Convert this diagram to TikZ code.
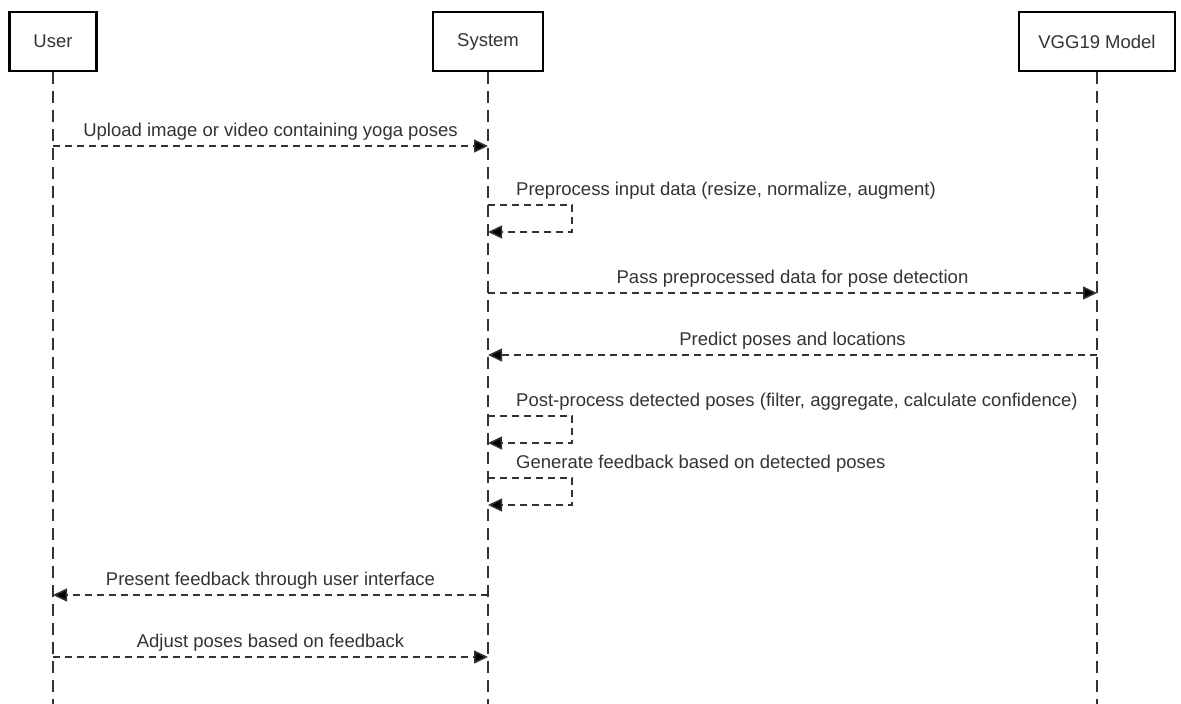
\documentclass[tikz,border=0pt]{standalone}
\usepackage{fontspec}
\setmainfont{Liberation Sans}
\usepackage{tikz}
\usetikzlibrary{arrows.meta}
\definecolor{lineGray}{HTML}{333333}

\begin{document}
\begin{tikzpicture}[x=1pt, y=-1pt,
	font=\fontsize{18.5}{22}\selectfont,
	actor/.style={rectangle, draw=black, line width=2.6pt, minimum height=59pt, inner sep=0pt, text=lineGray},
	lifeline/.style={draw=lineGray, line width=1.5pt, dash pattern=on 12pt off 7pt},
	msg/.style={draw=lineGray, line width=1.5pt, dash pattern=on 7pt off 5pt, -{Triangle[length=14pt, width=13pt, fill=black]}},
	lbl/.style={text=lineGray, inner sep=0pt},
	selflbl/.style={lbl, anchor=base west, xshift=28pt, yshift=10pt}]
	\useasboundingbox (0,0) rectangle (1181,704);

	\node[actor, minimum width=87pt] (user) at (53,41.5) {User};
	\node[actor, minimum width=110pt] (system) at (488,41.5) {System};
	\node[actor, minimum width=156pt] (vgg) at (1097,41.5) {VGG19 Model};

	\foreach \a in {user, system, vgg}
		\draw[lifeline] (\a.south) -- (\a.south |- 0,704);

	\coordinate (u1) at (user |- 0,146);
	\coordinate (s1) at (system |- 0,146);
	\coordinate (s2) at (system |- 0,205);
	\coordinate (s2r) at (system |- 0,232);
	\coordinate (s3) at (system |- 0,293);
	\coordinate (v3) at (vgg |- 0,293);
	\coordinate (v4) at (vgg |- 0,355);
	\coordinate (s4) at (system |- 0,355);
	\coordinate (s5) at (system |- 0,416);
	\coordinate (s5r) at (system |- 0,443);
	\coordinate (s6) at (system |- 0,478);
	\coordinate (s6r) at (system |- 0,505);
	\coordinate (s7) at (system |- 0,595);
	\coordinate (u7) at (user |- 0,595);
	\coordinate (u8) at (user |- 0,657);
	\coordinate (s8) at (system |- 0,657);

	\draw[msg] (u1) -- (s1) node[lbl, midway, anchor=base, yshift=10pt] {Upload image or video containing yoga poses};
	\draw[msg] (s2) -- ++(84,0) |- (s2r);
	\node[selflbl] at (s2) {Preprocess input data (resize, normalize, augment)};
	\draw[msg] (s3) -- (v3) node[lbl, midway, anchor=base, yshift=10pt] {Pass preprocessed data for pose detection};
	\draw[msg] (v4) -- (s4) node[lbl, midway, anchor=base, yshift=10pt] {Predict poses and locations};
	\draw[msg] (s5) -- ++(84,0) |- (s5r);
	\node[selflbl] at (s5) {Post-process detected poses (filter, aggregate, calculate confidence)};
	\draw[msg] (s6) -- ++(84,0) |- (s6r);
	\node[selflbl] at (s6) {Generate feedback based on detected poses};
	\draw[msg] (s7) -- (u7) node[lbl, midway, anchor=base, yshift=10pt] {Present feedback through user interface};
	\draw[msg] (u8) -- (s8) node[lbl, midway, anchor=base, yshift=10pt] {Adjust poses based on feedback};
\end{tikzpicture}
\end{document}
